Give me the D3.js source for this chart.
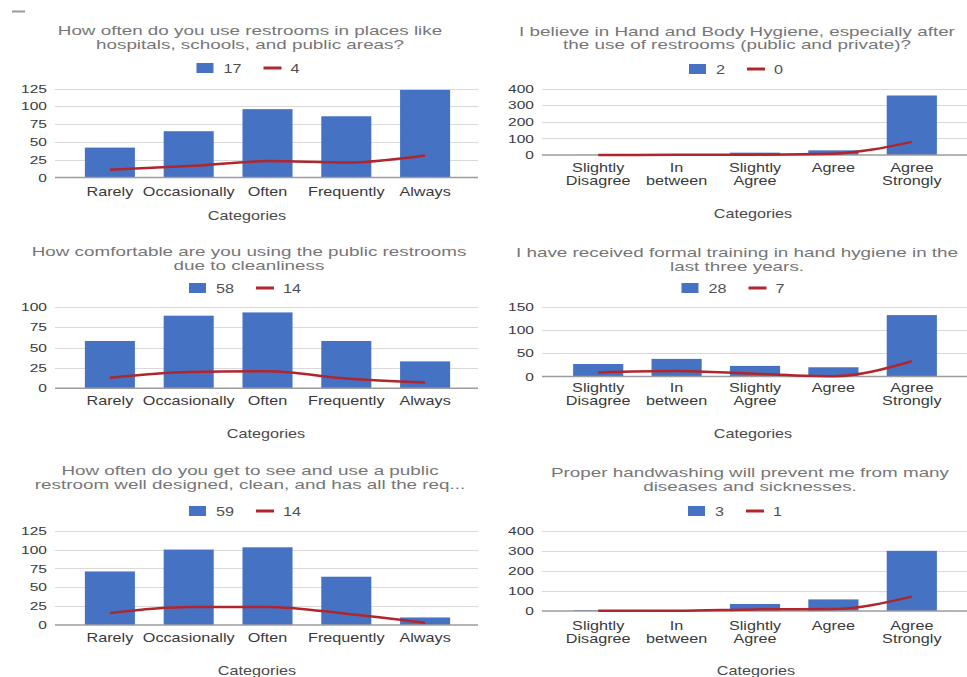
<!DOCTYPE html>
<html>
<head>
<meta charset="utf-8">
<script src="https://cdn.jsdelivr.net/npm/d3@7"></script>
<style>
  html, body { margin: 0; padding: 0; background: #fff; }
  svg { display: block; font-family: "Liberation Sans", Arial, Helvetica, sans-serif; }
</style>
</head>
<body>
<svg id="chart" width="967" height="677"></svg>
<script>
// ---- survey answers ----
const frequencyCategories = ["Rarely", "Occasionally", "Often", "Frequently", "Always"];
const agreementCategories = ["Slightly Disagree", "In between", "Slightly Agree", "Agree", "Agree Strongly"];

const restroomUseTitle = ["How often do you use restrooms in places like", "hospitals, schools, and public areas?"];
const hygieneBeliefTitle = ["I believe in Hand and Body Hygiene, especially after", "the use of restrooms (public and private)?"];
const comfortTitle = ["How comfortable are you using the public restrooms", "due to cleanliness"];
const trainingTitle = ["I have received formal training in hand hygiene in the", "last three years."];
const wellDesignedTitle = ["How often do you get to see and use a public", "restroom well designed, clean, and has all the req..."];
const handwashingTitle = ["Proper handwashing will prevent me from many", "diseases and sicknesses."];

// series names shown in each legend (bar series, line series)
const restroomUseNames = ["17", "4"];
const hygieneBeliefNames = ["2", "0"];
const comfortNames = ["58", "14"];
const trainingNames = ["28", "7"];
const wellDesignedNames = ["59", "14"];
const handwashingNames = ["3", "1"];

// values per category
const restroomUseBars = [42, 65, 96, 86, 123];
const restroomUseLine = [11, 16, 23, 21, 31];
const hygieneBeliefBars = [1, 5, 14, 28, 358];
const hygieneBeliefLine = [0, 1, 2, 8, 79];
const comfortBars = [58, 89, 93, 58, 33];
const comfortLine = [13, 20, 21, 12, 7];
const trainingBars = [27, 38, 23, 20, 132];
const trainingLine = [9, 12, 6, 1, 33];
const wellDesignedBars = [71, 100, 103, 64, 10];
const wellDesignedLine = [16, 24, 24, 15, 3];
const handwashingBars = [4, 1, 35, 58, 301];
const handwashingLine = [1, 1, 8, 10, 72];

// y-axis tick labels
const ticks100 = [0, 25, 50, 75, 100];
const ticks125 = [0, 25, 50, 75, 100, 125];
const ticks150 = [0, 50, 100, 150];
const ticks400 = [0, 100, 200, 300, 400];

const axisTitle = "Categories";

// ---- layout ----
const SX = 1.35;                 // horizontal text stretch
const TITLE_SX = 1.45;           // stretch for the two-line titles
const BAR = "#4672c4";
const LINE = "#b0262c";

const columns = [
  { axisX: 55, gridEnd: 478, band: [70.5, 464.5], pad: 0.365, wrap: false },
  { axisX: 542, gridEnd: 967, band: [559, 951], pad: 0.36, wrap: true }
];

const panels = [
  { col: 0, cats: frequencyCategories, title: restroomUseTitle, names: restroomUseNames,
    bars: restroomUseBars, line: restroomUseLine, ticks: ticks125,
    titleX: 250, titleY: [35, 49], legendX: 248, legendY: 68, y0: 177.5, y1: 88.5,
    labelY: 196, axisTitleX: 247, axisTitleY: 220 },
  { col: 1, cats: agreementCategories, title: hygieneBeliefTitle, names: hygieneBeliefNames,
    bars: hygieneBeliefBars, line: hygieneBeliefLine, ticks: ticks400,
    titleX: 737, titleY: [36, 49], legendX: 736, legendY: 69, y0: 155, y1: 88.5,
    labelY: 172, axisTitleX: 753, axisTitleY: 218 },
  { col: 0, cats: frequencyCategories, title: comfortTitle, names: comfortNames,
    bars: comfortBars, line: comfortLine, ticks: ticks100,
    titleX: 249, titleY: [256, 270], legendX: 245, legendY: 288, y0: 388.3, y1: 306.7,
    labelY: 405, axisTitleX: 266, axisTitleY: 438 },
  { col: 1, cats: agreementCategories, title: trainingTitle, names: trainingNames,
    bars: trainingBars, line: trainingLine, ticks: ticks150,
    titleX: 737, titleY: [257, 271], legendX: 733, legendY: 288, y0: 376.6, y1: 306.7,
    labelY: 391.5, axisTitleX: 753, axisTitleY: 438 },
  { col: 0, cats: frequencyCategories, title: wellDesignedTitle, names: wellDesignedNames,
    bars: wellDesignedBars, line: wellDesignedLine, ticks: ticks125,
    titleX: 250, titleY: [475, 489], legendX: 245, legendY: 511, y0: 625, y1: 530.7,
    labelY: 642, axisTitleX: 257, axisTitleY: 675 },
  { col: 1, cats: agreementCategories, title: handwashingTitle, names: handwashingNames,
    bars: handwashingBars, line: handwashingLine, ticks: ticks400,
    titleX: 750, titleY: [477, 491], legendX: 735, legendY: 511, y0: 611, y1: 531,
    labelY: 629.5, axisTitleX: 756, axisTitleY: 675 }
];

const svg = d3.select("#chart");

// small dash in the top-left corner
svg.append("line").attr("x1", 12).attr("x2", 25).attr("y1", 11.5).attr("y2", 11.5)
  .attr("stroke", "#9a9a9a").attr("stroke-width", 2);

// stretched text placed at (x, y)
function stretchedText(g, x, y, str, size, fill, anchor, sx) {
  const k = sx || SX;
  return g.append("text")
    .attr("transform", `translate(${x},${y}) scale(${k},1)`)
    .attr("text-anchor", anchor || "middle")
    .attr("font-size", size)
    .attr("fill", fill)
    .text(str);
}

panels.forEach(p => {
  const c = columns[p.col];
  const g = svg.append("g");

  const x = d3.scaleBand().domain(p.cats).range(c.band)
    .paddingInner(c.pad).paddingOuter(c.pad / 2);
  const y = d3.scaleLinear().domain([0, d3.max(p.ticks)]).range([p.y0, p.y1]);

  // title
  p.title.forEach((t, i) => stretchedText(g, p.titleX, p.titleY[i], t, 13, "#767676", "middle", TITLE_SX));

  // legend, centred on legendX
  const lg = g.append("g");
  const t1 = stretchedText(lg, 0, 0, p.names[0], 12, "#505050", "start");
  const t2 = stretchedText(lg, 0, 0, p.names[1], 12, "#505050", "start");
  const w1 = t1.node().getComputedTextLength() * SX;
  const w2 = t2.node().getComputedTextLength() * SX;
  const total = 17 + 10 + w1 + 22 + 18 + 9 + w2;
  let lx = p.legendX - total / 2;
  lg.insert("rect", "text").attr("x", lx).attr("y", p.legendY - 5).attr("width", 17).attr("height", 10).attr("fill", BAR);
  lx += 27;
  t1.attr("transform", `translate(${lx},${p.legendY + 4.5}) scale(${SX},1)`);
  lx += w1 + 22;
  lg.append("line").attr("x1", lx).attr("x2", lx + 18).attr("y1", p.legendY).attr("y2", p.legendY)
    .attr("stroke", LINE).attr("stroke-width", 3);
  lx += 27;
  t2.attr("transform", `translate(${lx},${p.legendY + 4.5}) scale(${SX},1)`);

  // gridlines
  g.append("g").selectAll("line").data(p.ticks.filter(d => d !== 0)).join("line")
    .attr("x1", c.axisX).attr("x2", c.gridEnd)
    .attr("y1", d => Math.round(y(d)) + 0.5).attr("y2", d => Math.round(y(d)) + 0.5)
    .attr("stroke", "#d9d9d9").attr("stroke-width", 1);

  // y axis labels
  const ya = g.append("g").attr("transform", `translate(${c.axisX},0)`)
    .call(d3.axisLeft(y).tickValues(p.ticks).tickSize(0).tickPadding(8));
  ya.select(".domain").remove();
  ya.attr("font-size", null).attr("font-family", null);
  ya.selectAll(".tick text")
    .attr("x", -8 / SX)
    .attr("transform", `scale(${SX},1)`)
    .attr("font-size", 11.5)
    .attr("fill", "#3a3a3a");

  // bars
  g.append("g").selectAll("rect").data(p.bars).join("rect")
    .attr("x", (d, i) => x(p.cats[i]))
    .attr("width", x.bandwidth())
    .attr("y", d => y(d))
    .attr("height", d => y(0) - y(d))
    .attr("fill", BAR);

  // baseline
  g.append("line").attr("x1", c.axisX).attr("x2", c.gridEnd)
    .attr("y1", y(0)).attr("y2", y(0))
    .attr("stroke", "#9c9c9c").attr("stroke-width", 1.5);

  // line series
  const lineGen = d3.line()
    .x((d, i) => x(p.cats[i]) + x.bandwidth() / 2)
    .y(d => y(d))
    .curve(d3.curveMonotoneX);
  g.append("path").datum(p.line).attr("d", lineGen)
    .attr("fill", "none").attr("stroke", LINE).attr("stroke-width", 2.5);

  // category labels
  const xa = g.append("g").attr("transform", `translate(0,${p.labelY})`)
    .call(d3.axisBottom(x).tickSize(0).tickPadding(0));
  xa.select(".domain").remove();
  xa.attr("font-size", null).attr("font-family", null);
  xa.selectAll(".tick text")
    .attr("y", 0).attr("dy", 0)
    .attr("transform", `scale(${SX},1)`)
    .attr("font-size", 12)
    .attr("fill", "#3a3a3a")
    .each(function (d) {
      if (!c.wrap) return;
      const words = d.split(" ");
      const t = d3.select(this).text(null);
      words.forEach((w, i) => t.append("tspan").attr("x", 0).attr("dy", i ? 13.5 : 0).text(w));
    });

  // axis title
  stretchedText(g, p.axisTitleX, p.axisTitleY, axisTitle, 12, "#4a4a4a");
});
</script>
</body>
</html>
